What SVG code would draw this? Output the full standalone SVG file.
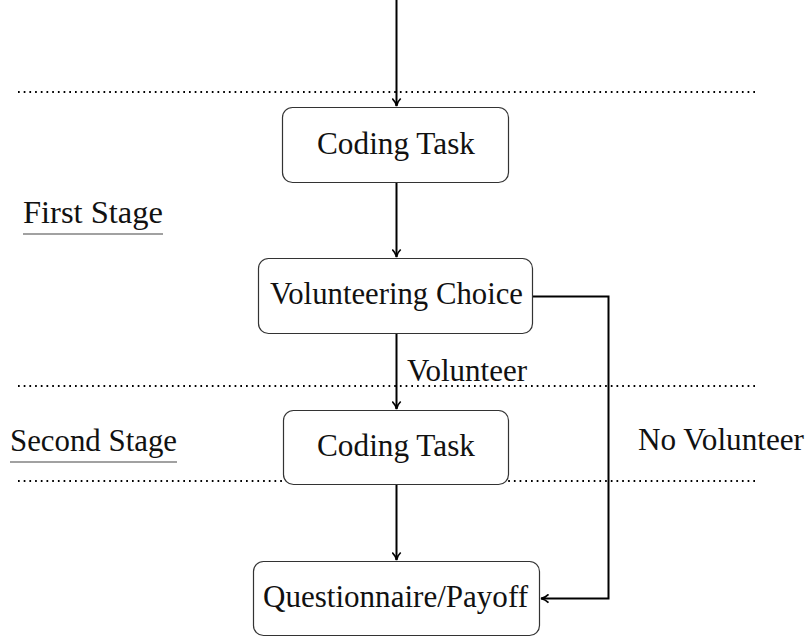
<svg xmlns="http://www.w3.org/2000/svg" width="806" height="637" viewBox="0 0 806 637">
<style>
.box{fill:#fff;stroke:#333;stroke-width:1.2}
.t{font-family:"Liberation Serif","Times New Roman",serif;font-size:31px;fill:#111}
.c{stroke:#000;stroke-width:2;fill:none}
.dot{stroke:#000;stroke-width:1.8;stroke-dasharray:1.7 4;fill:none}
.ul{stroke:#444;stroke-width:1.2}
</style>
<defs>
<marker id="ah" viewBox="0 0 10 10" refX="9" refY="5" markerWidth="10" markerHeight="10" markerUnits="userSpaceOnUse" orient="auto">
<path d="M1.5,0.8 Q4.5,4 9,5 Q4.5,6 1.5,9.2" fill="none" stroke="#000" stroke-width="1.7"/>
</marker>
</defs>
<g id="separators">
<line class="dot" x1="18" y1="92" x2="758" y2="92"/>
<line class="dot" x1="18" y1="386" x2="758" y2="386"/>
<line class="dot" x1="18" y1="481" x2="758" y2="481"/>
</g>
<g id="stage-labels">
<text class="t" x="23" y="223" textLength="140" lengthAdjust="spacingAndGlyphs">First Stage</text>
<line class="ul" x1="23" y1="234" x2="163" y2="234"/>
<text class="t" x="10" y="451" textLength="167" lengthAdjust="spacingAndGlyphs">Second Stage</text>
<line class="ul" x1="10" y1="462" x2="177" y2="462"/>
</g>
<g id="connectors">
<line class="c" x1="396.5" y1="0" x2="396.5" y2="106"  marker-end="url(#ah)"/>
<line class="c" x1="396.5" y1="183" x2="396.5" y2="257" marker-end="url(#ah)"/>
<line class="c" x1="396.5" y1="334" x2="396.5" y2="409" marker-end="url(#ah)"/>
<line class="c" x1="396.5" y1="485" x2="396.5" y2="560" marker-end="url(#ah)"/>
<polyline class="c" points="533,296.5 608.5,296.5 608.5,598.5 541,598.5" marker-end="url(#ah)"/>
<text class="t" x="407" y="381" textLength="120" lengthAdjust="spacingAndGlyphs">Volunteer</text>
<text class="t" x="638" y="450" textLength="166" lengthAdjust="spacingAndGlyphs">No Volunteer</text>
</g>
<g id="coding1">
<rect class="box" x="282.5" y="107.5" width="226" height="75" rx="10"/>
<text class="t" x="317" y="154" textLength="158" lengthAdjust="spacingAndGlyphs">Coding Task</text>
</g>
<g id="choice">
<rect class="box" x="258.5" y="258.5" width="274" height="75" rx="10"/>
<text class="t" x="270" y="304" textLength="253" lengthAdjust="spacingAndGlyphs">Volunteering Choice</text>
</g>
<g id="coding2">
<rect class="box" x="283.5" y="410.5" width="225" height="74" rx="10"/>
<text class="t" x="317" y="456" textLength="158" lengthAdjust="spacingAndGlyphs">Coding Task</text>
</g>
<g id="questionnaire">
<rect class="box" x="253.5" y="561.5" width="286" height="74" rx="10"/>
<text class="t" x="263" y="607" textLength="265" lengthAdjust="spacingAndGlyphs">Questionnaire/Payoff</text>
</g>
</svg>
